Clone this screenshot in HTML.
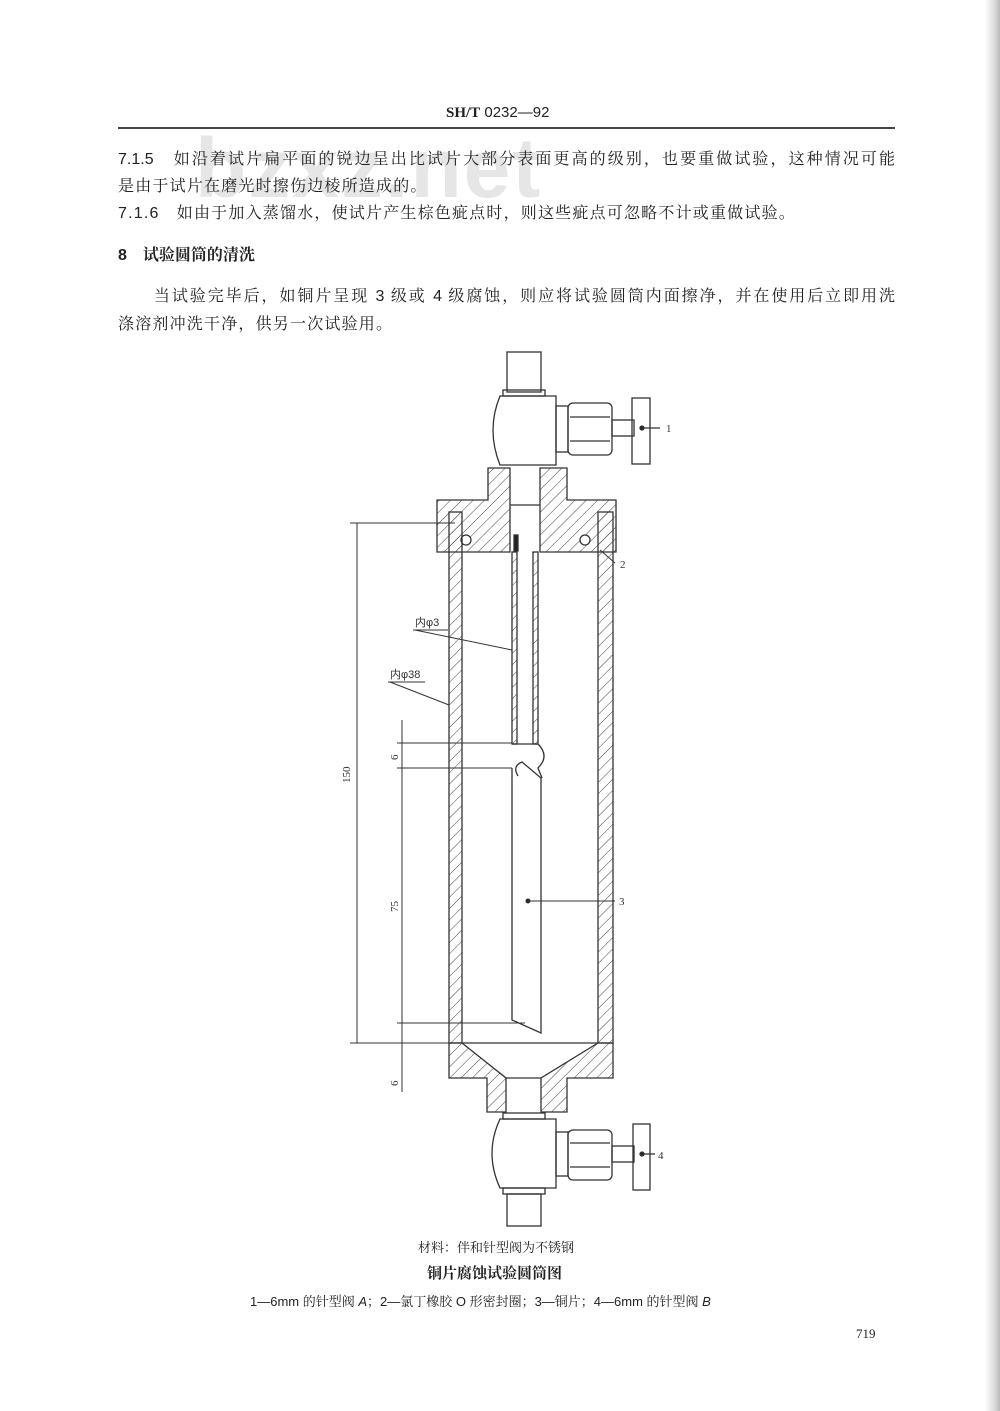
<!DOCTYPE html>
<html><head><meta charset="utf-8"><style>
body{margin:0;background:#fff;}
#p{position:relative;width:1000px;height:1411px;overflow:hidden;background:#fff;font-family:"Liberation Sans","Noto Serif CJK SC","Noto Sans CJK SC",sans-serif;color:#222;}
.t{position:absolute;font-size:16px;white-space:nowrap;line-height:20px;}
.j{text-align:justify;text-align-last:justify;white-space:normal;}
</style></head><body><div id="p">
<div style="position:absolute;left:985px;top:0;width:15px;height:1411px;background:linear-gradient(90deg,#fff,#ddd 60%,#bbb)"></div>
<div style="position:absolute;left:195px;top:120px;font:bold 84px 'Liberation Sans',sans-serif;color:#e6e6e6;letter-spacing:2px">bzxz.net</div>
<div class="t" style="left:446px;top:103px;font-size:15px"><b style="font-family:'Liberation Serif',serif">SH/T</b> 0232—92</div>
<div style="position:absolute;left:118px;top:127px;width:777px;height:2px;background:#444"></div>
<div class="t j" style="left:118px;top:150px;width:777px">7.1.5　如沿着试片扁平面的锐边呈出比试片大部分表面更高的级别，也要重做试验，这种情况可能</div>
<div class="t" style="left:118px;top:177px;letter-spacing:1.2px">是由于试片在磨光时擦伤边棱所造成的。</div>
<div class="t" style="left:118px;top:204px;letter-spacing:1.2px">7.1.6　如由于加入蒸馏水，使试片产生棕色疵点时，则这些疵点可忽略不计或重做试验。</div>
<div class="t" style="left:118px;top:246px;font-weight:bold">8　试验圆筒的清洗</div>
<div class="t j" style="left:118px;top:287px;width:777px">　　当试验完毕后，如铜片呈现 3 级或 4 级腐蚀，则应将试验圆筒内面擦净，并在使用后立即用洗</div>
<div class="t" style="left:118px;top:315px;letter-spacing:1.2px">涤溶剂冲洗干净，供另一次试验用。</div>

<svg style="position:absolute;left:0;top:0" width="1000" height="1411" fill="none" stroke="#333" stroke-width="1.3">
<defs><pattern id="h" width="8" height="8" patternUnits="userSpaceOnUse" patternTransform="rotate(45)"><line x1="0" y1="0" x2="0" y2="8" stroke="#444" stroke-width="1"/></pattern></defs>
<!-- top valve -->
<rect x="507" y="352" width="34" height="40"/>
<rect x="503" y="390" width="42" height="6"/>
<path d="M500 396 H556 V465 H500 Q486 430 500 396Z"/>
<rect x="556" y="406" width="12" height="46"/>
<rect x="568" y="403" width="44" height="52" rx="5"/>
<line x1="570" y1="417" x2="610" y2="417"/><line x1="570" y1="441" x2="610" y2="441"/>
<rect x="612" y="420" width="22" height="16"/>
<rect x="632" y="398" width="18" height="66"/>
<circle cx="642" cy="428" r="2" fill="#222"/><line x1="642" y1="428" x2="660" y2="428"/>
<!-- cap -->
<path d="M488 468 H510 V552 H437 V500 H488 Z" fill="url(#h)"/>
<path d="M540 468 H567 V500 H616 V552 H540 Z" fill="url(#h)"/>
<line x1="510" y1="505" x2="540" y2="505"/>
<circle cx="466" cy="540" r="5" fill="#fff"/><circle cx="585" cy="540" r="5" fill="#fff"/>
<rect x="514" y="535" width="4" height="16" fill="#222"/>
<!-- cylinder walls -->
<rect x="449" y="512" width="13" height="531" fill="url(#h)"/>
<rect x="598" y="512" width="15" height="531" fill="url(#h)"/>
<!-- bottom cone -->
<path d="M449 1043 H462 L506 1078 V1112 H487 V1078 H449 Z" fill="url(#h)"/>
<path d="M598 1043 H613 V1078 H567 V1112 H541 V1078 Z" fill="url(#h)"/>
<line x1="462" y1="1043" x2="598" y2="1043"/>
<line x1="506" y1="1078" x2="541" y2="1078"/>
<!-- inner tube -->
<rect x="512" y="552" width="5" height="192" fill="url(#h)"/>
<rect x="533" y="552" width="5" height="192" fill="url(#h)"/>
<line x1="512" y1="744" x2="538" y2="744"/>
<path d="M538 744 Q550 756 538 768 L542 778"/>
<path d="M512 768 L512 1020 L541 1033 L541 778 L522 762 Q512 766 518 776"/>
<!-- bottom valve -->
<rect x="503" y="1113" width="42" height="6"/>
<path d="M500 1119 H556 V1188 H500 Q484 1153 500 1119Z"/>
<rect x="503" y="1188" width="42" height="6"/>
<rect x="507" y="1194" width="34" height="32"/>
<rect x="556" y="1132" width="12" height="44"/>
<rect x="568" y="1130" width="44" height="50" rx="5"/>
<line x1="570" y1="1143" x2="610" y2="1143"/><line x1="570" y1="1167" x2="610" y2="1167"/>
<rect x="612" y="1146" width="22" height="16"/>
<rect x="633" y="1124" width="17" height="66"/>
<circle cx="642" cy="1154" r="2" fill="#222"/><line x1="642" y1="1154" x2="655" y2="1154"/>
<!-- dimensions -->
<g stroke-width="1">
<line x1="357" y1="523" x2="357" y2="1043"/>
<line x1="350" y1="523" x2="455" y2="523"/>
<line x1="350" y1="1043" x2="462" y2="1043"/>
<line x1="402" y1="720" x2="402" y2="1092"/>
<line x1="397" y1="743" x2="512" y2="743"/>
<line x1="397" y1="768" x2="512" y2="768"/>
<line x1="397" y1="1023" x2="525" y2="1023"/>
<line x1="415" y1="630" x2="512" y2="650"/><line x1="413" y1="630" x2="448" y2="630"/>
<line x1="390" y1="682" x2="449" y2="705"/><line x1="388" y1="682" x2="425" y2="682"/>
<line x1="600" y1="550" x2="615" y2="563"/>
<circle cx="528" cy="901" r="2" fill="#222"/><line x1="528" y1="901" x2="615" y2="901"/>
</g>
<g fill="#333" stroke="none" font-family="Liberation Serif,serif" font-size="11">
<text x="666" y="432">1</text><text x="620" y="568">2</text><text x="619" y="905">3</text><text x="658" y="1159">4</text>
<text x="415" y="626" font-family="Liberation Sans,Noto Sans CJK SC,sans-serif">内φ3</text>
<text x="390" y="678" font-family="Liberation Sans,Noto Sans CJK SC,sans-serif">内φ38</text>
<text transform="translate(350 783) rotate(-90)">150</text>
<text transform="translate(398 760) rotate(-90)">6</text>
<text transform="translate(398 912) rotate(-90)">75</text>
<text transform="translate(398 1086) rotate(-90)">6</text>
</g>
</svg>
<div class="t" style="left:418px;top:1238px;font-size:13px">材料：伴和针型阀为不锈钢</div>
<div class="t" style="left:427px;top:1264px;font-size:15px;font-weight:bold">铜片腐蚀试验圆筒图</div>
<div class="t" style="left:250px;top:1292px;font-size:13px">1—6mm 的针型阀 <i>A</i>；2—氯丁橡胶 O 形密封圈；3—铜片；4—6mm 的针型阀 <i>B</i></div>
<div class="t" style="left:856px;top:1324px;font-size:13px;font-family:'Liberation Serif',serif">719</div>
</div></body></html>
